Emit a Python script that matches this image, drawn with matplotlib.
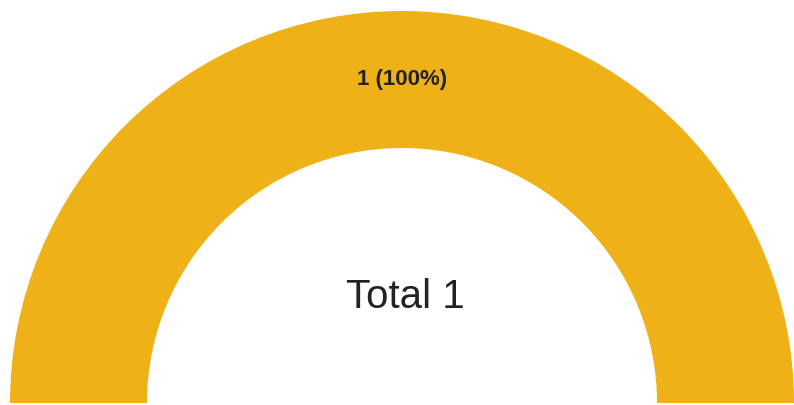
import numpy as np
import matplotlib.pyplot as plt

# gauge data
labels = ['1']
values = [1]
total = sum(values)
colors = ['#efb118']

plt.rcParams['font.family'] = ['Liberation Sans', 'DejaVu Sans']

fig = plt.figure(figsize=(7.94, 4.05), dpi=100)
ax = fig.add_axes([0, 0, 1, 1])

# half donut: the second (hidden) wedge fills the lower half
wedges, _ = ax.pie(values + [total], colors=colors + ['none'], startangle=0,
                   counterclock=True, center=(402, 2), radius=392,
                   wedgeprops={'width': 137, 'linewidth': 0})
wedges[-1].set_visible(False)

# value label in the middle of each arc
for w, lab, v in zip(wedges[:-1], labels, values):
    ang = np.deg2rad((w.theta1 + w.theta2) / 2)
    r = 392 - 137 / 2
    ax.text(402 + r * np.cos(ang), 2 + r * np.sin(ang),
            '%s (%d%%)' % (lab, round(v / total * 100)),
            ha='center', va='center', fontsize=16, fontweight='bold', color='#222222')

ax.text(405, 108, 'Total %d' % total, ha='center', va='center', fontsize=29, color='#222222')

ax.set_xlim(0, 794)
ax.set_ylim(0, 405)
ax.set_aspect('auto')
ax.axis('off')

plt.savefig('out.png', dpi=100)
